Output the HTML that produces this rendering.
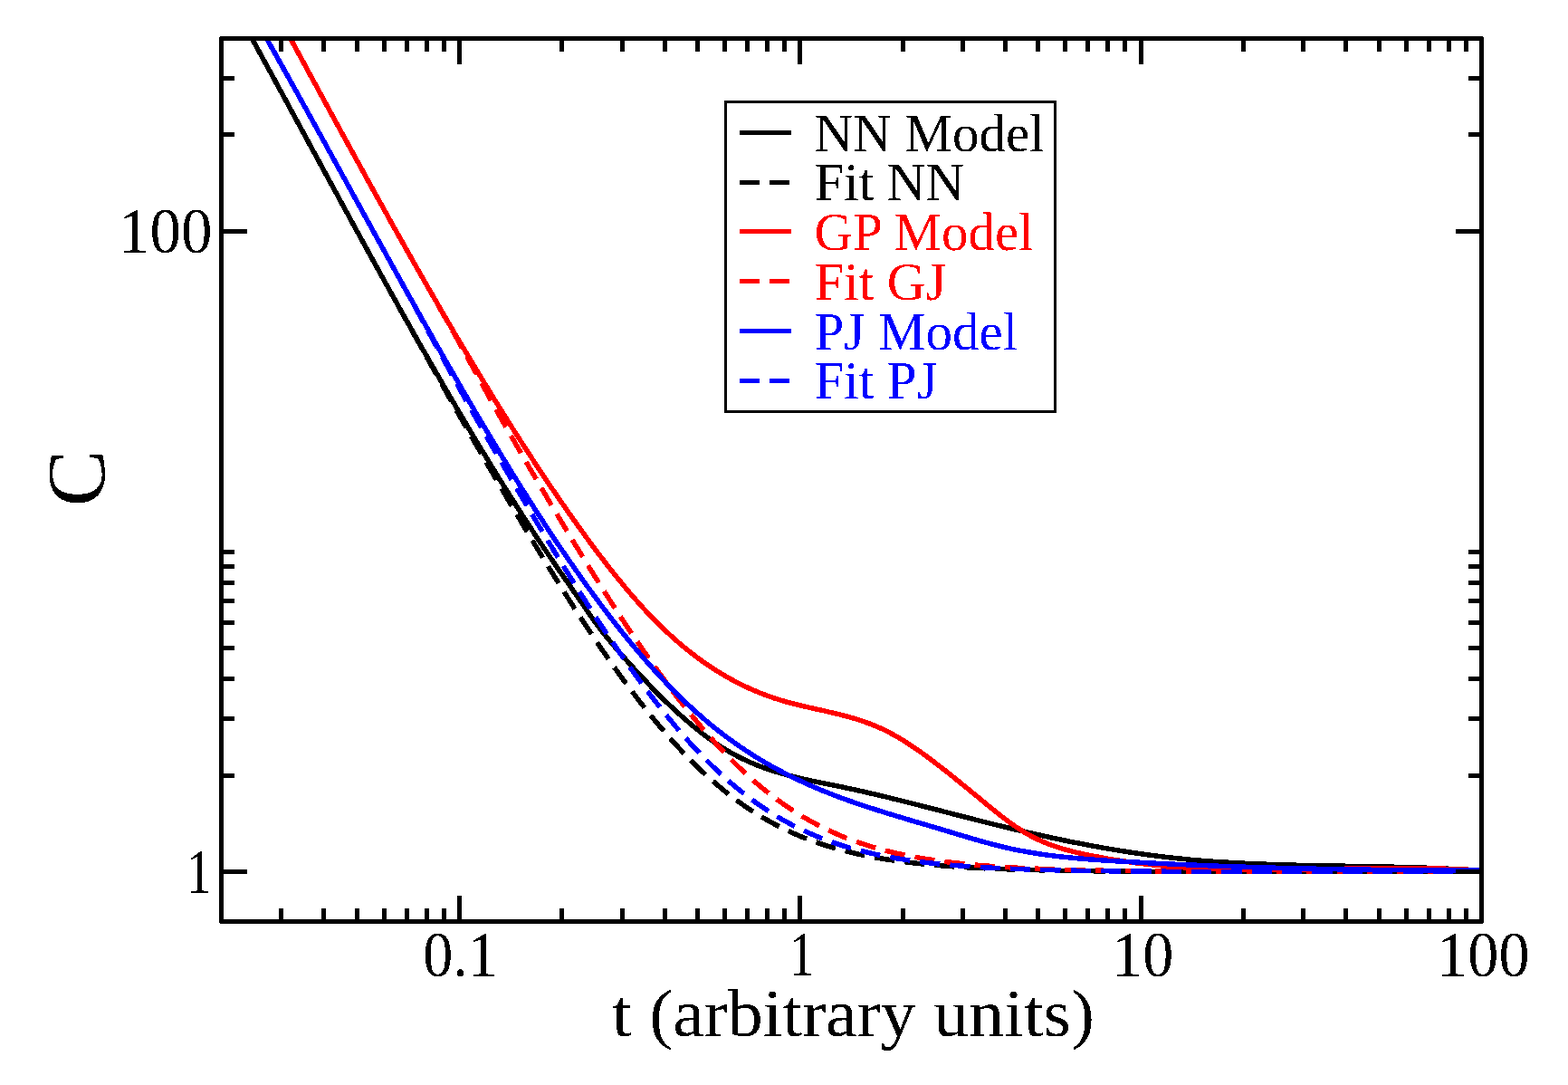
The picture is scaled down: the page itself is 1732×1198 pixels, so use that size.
<!DOCTYPE html>
<html><head><meta charset="utf-8"><style>
html,body{margin:0;padding:0;background:#fff;}
svg{display:block;}
text{font-family:'Liberation Serif','Times New Roman',serif;}
</style></head><body>
<svg width="1732" height="1198" viewBox="0 0 1732 1198">
<rect width="1732" height="1198" fill="#fff"/>
<defs><clipPath id="pc"><rect x="244.5" y="42.5" width="1392.0" height="975.0"/></clipPath>
<filter id="bin" x="0" y="0" width="1732" height="1198" filterUnits="userSpaceOnUse"><feComponentTransfer><feFuncA type="discrete" tableValues="0 1"/></feComponentTransfer></filter></defs>
<g fill="none" stroke-width="5.5" stroke-linejoin="round" clip-path="url(#pc)" shape-rendering="crispEdges">
<polyline points="271.4,30.0 272.8,32.6 274.3,35.2 275.7,37.8 277.1,40.5 278.6,43.1 280.0,45.7 281.5,48.4 282.9,51.0 284.4,53.6 285.8,56.3 287.3,58.9 288.7,61.5 290.1,64.1 291.6,66.8 293.0,69.4 294.5,72.0 295.9,74.7 297.3,77.3 298.8,79.9 300.2,82.6 301.7,85.2 303.1,87.8 304.5,90.5 306.0,93.1 307.4,95.7 308.8,98.4 310.3,101.0 311.7,103.6 313.2,106.3 314.6,108.9 316.0,111.5 317.5,114.2 318.9,116.8 320.3,119.4 321.8,122.1 323.2,124.7 324.6,127.4 326.1,130.0 327.5,132.6 328.9,135.3 330.4,137.9 331.8,140.5 333.2,143.2 334.7,145.8 336.1,148.4 337.5,151.1 339.0,153.7 340.4,156.3 341.8,159.0 343.3,161.6 344.7,164.2 346.1,166.9 347.6,169.5 349.0,172.2 350.4,174.8 351.9,177.4 353.3,180.1 354.7,182.7 356.2,185.3 357.6,188.0 359.0,190.6 360.5,193.2 361.9,195.9 363.3,198.5 364.8,201.1 366.2,203.8 367.6,206.4 369.1,209.0 370.5,211.7 372.0,214.3 373.4,216.9 374.8,219.6 376.3,222.2 377.7,224.8 379.1,227.5 380.6,230.1 382.0,232.7 383.5,235.4 384.9,238.0 386.3,240.6 387.8,243.3 389.2,245.9 390.6,248.5 392.1,251.2 393.5,253.8 395.0,256.4 396.4,259.1 397.9,261.7 399.3,264.3 400.7,266.9 402.2,269.6 403.6,272.2 405.1,274.8 406.5,277.5 408.0,280.1 409.4,282.7 410.9,285.3 412.3,288.0 413.8,290.6 415.2,293.2 416.7,295.8 418.1,298.5 419.6,301.1 421.0,303.7 422.5,306.3 423.9,309.0 425.4,311.6 426.8,314.2 428.3,316.8 429.8,319.5 431.2,322.1 432.7,324.7 434.1,327.3 435.6,329.9 437.1,332.6 438.5,335.2 440.0,337.8 441.4,340.4 442.9,343.0 444.4,345.6 445.8,348.3 447.3,350.9 448.8,353.5 450.3,356.1 451.7,358.7 453.2,361.3 454.7,363.9 456.1,366.6 457.6,369.2 459.1,371.8 460.6,374.4 462.1,377.0 463.5,379.6 465.0,382.2 466.5,384.8 468.0,387.4 469.5,390.0 471.0,392.6 472.4,395.2 473.9,397.8 475.4,400.4 476.9,403.0 478.4,405.6 479.9,408.2 481.4,410.8 482.9,413.4 484.4,416.0 485.9,418.6 487.4,421.2 488.9,423.8 490.4,426.4 491.9,429.0 493.4,431.6 494.9,434.2 496.4,436.8 497.9,439.4 499.5,442.0 501.0,444.6 502.5,447.1 504.0,449.7 505.5,452.3 507.0,454.9 508.6,457.5 510.1,460.1 511.6,462.6 513.2,465.2 514.7,467.8 516.2,470.4 517.8,473.0 519.3,475.5 520.8,478.1 522.4,480.7 523.9,483.3 525.5,485.8 527.0,488.4 528.5,491.0 530.1,493.5 531.6,496.1 533.2,498.7 534.8,501.2 536.3,503.8 537.9,506.3 539.4,508.9 541.0,511.5 542.6,514.0 544.1,516.6 545.7,519.1 547.3,521.7 548.9,524.2 550.4,526.8 552.0,529.3 553.6,531.9 555.2,534.4 556.8,537.0 558.4,539.5 560.0,542.0 561.6,544.6 563.2,547.1 564.8,549.6 566.4,552.2 568.0,554.7 569.6,557.2 571.2,559.8 572.8,562.3 574.4,564.8 576.1,567.3 577.7,569.9 579.3,572.4 580.9,574.9 582.6,577.4 584.2,579.9 585.8,582.4 587.5,584.9 589.1,587.4 590.8,590.0 592.4,592.5 594.1,595.0 595.7,597.5 597.4,599.9 599.1,602.4 600.7,604.9 602.4,607.4 604.1,609.9 605.8,612.4 607.4,614.9 609.1,617.3 610.8,619.8 612.5,622.3 614.2,624.8 615.9,627.2 617.6,629.7 619.3,632.2 621.0,634.6 622.7,637.1 624.4,639.6 626.2,642.0 627.9,644.5 629.6,647.0 631.3,649.4 633.0,651.9 634.7,654.3 636.4,656.8 638.2,659.3 639.9,661.7 641.6,664.2 643.3,666.7 645.0,669.1 646.7,671.6 648.4,674.1 650.1,676.6 651.8,679.0 653.5,681.5 655.2,683.9 656.9,686.4 658.7,688.8 660.5,691.2 662.3,693.6 664.1,695.9 666.0,698.3 667.8,700.6 669.7,702.9 671.6,705.3 673.5,707.6 675.4,709.9 677.3,712.2 679.3,714.5 681.2,716.7 683.2,719.0 685.1,721.3 687.1,723.5 689.1,725.8 691.1,728.0 693.1,730.2 695.1,732.5 697.1,734.7 699.1,736.9 701.1,739.1 703.2,741.3 705.2,743.5 707.3,745.7 709.3,747.9 711.4,750.1 713.4,752.2 715.5,754.4 717.6,756.6 719.6,758.7 721.7,760.9 723.8,763.0 725.9,765.1 728.1,767.2 730.2,769.4 732.3,771.5 734.4,773.6 736.6,775.7 738.8,777.7 740.9,779.8 743.1,781.8 745.3,783.9 747.5,785.9 749.7,787.9 751.9,789.9 754.2,791.9 756.4,793.9 758.7,795.9 760.9,797.8 763.2,799.8 765.5,801.7 767.8,803.6 770.1,805.5 772.5,807.3 774.8,809.2 777.2,811.0 779.6,812.8 782.0,814.6 784.4,816.3 786.9,818.1 789.3,819.8 791.8,821.5 794.3,823.1 796.8,824.7 799.3,826.3 801.9,827.9 804.5,829.4 807.0,830.9 809.7,832.4 812.3,833.8 814.9,835.2 817.6,836.5 820.3,837.9 823.0,839.1 825.7,840.4 828.4,841.6 831.2,842.8 834.0,843.9 836.7,845.1 839.5,846.1 842.3,847.2 845.2,848.2 848.0,849.2 850.8,850.2 853.7,851.1 856.5,852.0 859.4,852.9 862.3,853.7 865.1,854.5 868.0,855.3 870.9,856.1 873.8,856.9 876.7,857.6 879.6,858.3 882.6,859.0 885.5,859.7 888.4,860.4 891.3,861.0 894.3,861.6 897.2,862.3 900.1,862.9 903.1,863.5 906.0,864.1 908.9,864.7 911.9,865.3 914.8,865.9 917.8,866.5 920.7,867.1 923.6,867.7 926.6,868.3 929.5,868.9 932.5,869.5 935.4,870.1 938.3,870.7 941.3,871.4 944.2,872.0 947.1,872.7 950.1,873.3 953.0,874.0 955.9,874.6 958.8,875.3 961.8,876.0 964.7,876.7 967.6,877.3 970.5,878.0 973.4,878.7 976.4,879.4 979.3,880.1 982.2,880.8 985.1,881.6 988.0,882.3 990.9,883.0 993.8,883.7 996.8,884.4 999.7,885.2 1002.6,885.9 1005.5,886.6 1008.4,887.4 1011.3,888.1 1014.2,888.8 1017.1,889.6 1020.0,890.3 1022.9,891.1 1025.8,891.8 1028.7,892.6 1031.6,893.3 1034.6,894.1 1037.5,894.8 1040.4,895.6 1043.3,896.3 1046.2,897.1 1049.1,897.8 1052.0,898.6 1054.9,899.3 1057.8,900.1 1060.7,900.8 1063.6,901.6 1066.5,902.3 1069.4,903.0 1072.3,903.8 1075.2,904.5 1078.1,905.3 1081.0,906.0 1084.0,906.7 1086.9,907.5 1089.8,908.2 1092.7,908.9 1095.6,909.6 1098.5,910.4 1101.4,911.1 1104.3,911.8 1107.2,912.5 1110.2,913.2 1113.1,913.9 1116.0,914.6 1118.9,915.3 1121.8,916.0 1124.8,916.7 1127.7,917.4 1130.6,918.0 1133.5,918.7 1136.4,919.4 1139.4,920.0 1142.3,920.7 1145.2,921.4 1148.1,922.0 1151.1,922.7 1154.0,923.3 1156.9,923.9 1159.9,924.6 1162.8,925.2 1165.7,925.8 1168.7,926.5 1171.6,927.1 1174.5,927.7 1177.5,928.3 1180.4,928.9 1183.4,929.5 1186.3,930.1 1189.2,930.6 1192.2,931.2 1195.1,931.8 1198.1,932.4 1201.0,932.9 1204.0,933.5 1206.9,934.0 1209.9,934.6 1212.8,935.1 1215.8,935.6 1218.7,936.2 1221.7,936.7 1224.6,937.2 1227.6,937.7 1230.6,938.2 1233.5,938.7 1236.5,939.2 1239.4,939.6 1242.4,940.1 1245.4,940.6 1248.3,941.0 1251.3,941.5 1254.3,941.9 1257.2,942.3 1260.2,942.8 1263.2,943.2 1266.1,943.6 1269.1,944.0 1272.1,944.4 1275.1,944.8 1278.0,945.2 1281.0,945.5 1284.0,945.9 1287.0,946.3 1289.9,946.6 1292.9,946.9 1295.9,947.3 1298.9,947.6 1301.9,947.9 1304.9,948.2 1307.8,948.5 1310.8,948.8 1313.8,949.1 1316.8,949.4 1319.8,949.6 1322.8,949.9 1325.8,950.1 1328.8,950.4 1331.7,950.6 1334.7,950.8 1337.7,951.1 1340.7,951.3 1343.7,951.5 1346.7,951.7 1349.7,951.9 1352.7,952.1 1355.7,952.2 1358.7,952.4 1361.7,952.6 1364.7,952.8 1367.7,952.9 1370.7,953.1 1373.7,953.2 1376.7,953.4 1379.7,953.5 1382.7,953.6 1385.6,953.8 1388.6,953.9 1391.6,954.0 1394.6,954.1 1397.6,954.2 1400.6,954.4 1403.6,954.5 1406.6,954.6 1409.6,954.7 1412.6,954.7 1415.6,954.8 1418.6,954.9 1421.6,955.0 1424.6,955.1 1427.6,955.2 1430.6,955.2 1433.6,955.3 1436.6,955.4 1439.6,955.4 1442.6,955.5 1445.6,955.6 1448.6,955.6 1451.6,955.7 1454.6,955.7 1457.6,955.8 1460.6,955.8 1463.6,955.9 1466.6,956.0 1469.6,956.0 1472.6,956.1 1475.6,956.1 1478.6,956.2 1481.6,956.2 1484.6,956.2 1487.6,956.3 1490.6,956.3 1493.6,956.4 1496.6,956.4 1499.6,956.5 1502.6,956.5 1505.6,956.6 1508.6,956.6 1511.6,956.7 1514.6,956.7 1517.6,956.8 1520.6,956.9 1523.6,956.9 1526.6,957.0 1529.6,957.0 1532.6,957.1 1535.6,957.2 1538.6,957.2 1541.6,957.3 1544.6,957.4 1547.6,957.4 1550.6,957.5 1553.6,957.6 1556.6,957.7 1559.6,957.8 1562.6,957.9 1565.6,957.9 1568.6,958.0 1571.6,958.1 1574.6,958.2 1577.6,958.3 1580.6,958.5 1583.6,958.6 1586.6,958.7 1589.6,958.8 1592.6,959.0 1595.6,959.1 1598.6,959.2 1601.6,959.4 1604.6,959.5 1607.6,959.7 1610.6,959.8 1613.6,960.0 1616.5,960.2 1619.5,960.3 1622.5,960.5 1625.5,960.7 1628.5,960.9 1631.5,961.1 1634.5,961.3 1637.5,961.5 1640.0,961.7" stroke="#000"/>
<polyline points="271.4,30.0 272.8,32.6 274.3,35.2 275.7,37.8 277.1,40.5 278.6,43.1 280.0,45.7 281.5,48.4 282.9,51.0 284.4,53.6 285.8,56.3 287.3,58.9 288.7,61.5 290.1,64.1 291.6,66.8 293.0,69.4 294.5,72.0 295.9,74.7 297.3,77.3 298.8,79.9 300.2,82.6 301.7,85.2 303.1,87.8 304.5,90.5 306.0,93.1 307.4,95.7 308.8,98.4 310.3,101.0 311.7,103.6 313.2,106.3 314.6,108.9 316.0,111.5 317.5,114.2 318.9,116.8 320.3,119.4 321.8,122.1 323.2,124.7 324.6,127.4 326.1,130.0 327.5,132.6 328.9,135.3 330.4,137.9 331.8,140.5 333.2,143.2 334.7,145.8 336.1,148.4 337.5,151.1 339.0,153.7 340.4,156.3 341.8,159.0 343.3,161.6 344.7,164.2 346.1,166.9 347.6,169.5 349.0,172.2 350.4,174.8 351.9,177.4 353.3,180.1 354.7,182.7 356.2,185.3 357.6,188.0 359.0,190.6 360.5,193.2 361.9,195.9 363.3,198.5 364.8,201.1 366.2,203.8 367.6,206.4 369.1,209.0 370.5,211.7 372.0,214.3 373.4,216.9 374.8,219.6 376.3,222.2 377.7,224.8 379.1,227.5 380.6,230.1 382.0,232.7 383.5,235.4 384.9,238.0 386.3,240.6 387.8,243.3 389.2,245.9 390.6,248.5 392.1,251.2 393.5,253.8 395.0,256.4 396.4,259.1 397.9,261.7 399.3,264.3 400.7,266.9 402.2,269.6 403.6,272.2 405.1,274.8 406.5,277.5 408.0,280.1 409.4,282.7 410.9,285.3 412.3,288.0 413.8,290.6 415.2,293.2 416.7,295.8 418.1,298.5 419.6,301.1 421.0,303.7 422.5,306.3 423.9,309.0 425.4,311.6 426.8,314.2 428.3,316.8 429.7,319.5 431.2,322.1 432.6,324.7 434.1,327.3 435.6,330.0 437.0,332.6 438.5,335.2 439.9,337.8 441.4,340.4 442.8,343.1 444.3,345.7 445.7,348.3 447.2,350.9 448.7,353.6 450.1,356.2 451.6,358.8 453.0,361.4 454.5,364.0 456.0,366.7 457.4,369.3 458.9,371.9 460.3,374.5 461.8,377.2 463.3,379.8 464.7,382.4 466.2,385.0 467.6,387.6 469.1,390.3 470.6,392.9 472.0,395.5 473.5,398.1 474.9,400.7 476.4,403.4 477.9,406.0 479.3,408.6 480.8,411.2 482.3,413.8 483.7,416.4 485.2,419.1 486.6,421.7 488.1,424.3 489.6,426.9 491.0,429.5 492.5,432.2 494.0,434.8 495.4,437.4 496.9,440.0 498.4,442.6 499.8,445.2 501.3,447.8 502.8,450.5 504.3,453.1 505.7,455.7 507.2,458.3 508.7,460.9 510.2,463.5 511.7,466.1 513.2,468.7 514.6,471.3 516.1,473.9 517.6,476.5 519.1,479.1 520.6,481.7 522.1,484.3 523.6,486.9 525.1,489.5 526.6,492.1 528.1,494.7 529.6,497.3 531.1,499.9 532.6,502.5 534.1,505.1 535.6,507.7 537.1,510.3 538.6,512.9 540.1,515.5 541.6,518.1 543.1,520.7 544.6,523.3 546.1,525.9 547.6,528.5 549.1,531.1 550.6,533.7 552.1,536.3 553.6,538.8 555.2,541.4 556.7,544.0 558.2,546.6 559.7,549.2 561.2,551.8 562.8,554.4 564.3,556.9 565.8,559.5 567.3,562.1 568.9,564.7 570.4,567.3 571.9,569.8 573.5,572.4 575.0,575.0 576.5,577.6 578.1,580.2 579.6,582.7 581.1,585.3 582.7,587.9 584.2,590.4 585.8,593.0 587.3,595.6 588.9,598.1 590.4,600.7 592.0,603.3 593.5,605.8 595.1,608.4 596.7,611.0 598.2,613.5 599.8,616.1 601.3,618.6 602.9,621.2 604.5,623.7 606.1,626.3 607.6,628.8 609.2,631.4 610.8,633.9 612.4,636.5 614.0,639.0 615.6,641.6 617.1,644.1 618.7,646.7 620.3,649.2 621.9,651.7 623.5,654.3 625.1,656.8 626.7,659.3 628.4,661.9 630.0,664.4 631.6,666.9 633.2,669.4 634.8,672.0 636.5,674.5 638.1,677.0 639.7,679.5 641.4,682.0 643.0,684.5 644.6,687.0 646.3,689.5 648.0,692.0 649.6,694.5 651.3,697.0 652.9,699.5 654.6,702.0 656.3,704.5 657.9,707.0 659.6,709.5 661.3,711.9 663.0,714.4 664.7,716.9 666.4,719.4 668.1,721.8 669.8,724.3 671.5,726.7 673.2,729.2 675.0,731.7 676.7,734.1 678.4,736.5 680.2,739.0 681.9,741.4 683.7,743.9 685.4,746.3 687.2,748.7 688.9,751.1 690.7,753.5 692.5,755.9 694.3,758.4 696.1,760.8 697.9,763.1 699.7,765.5 701.5,767.9 703.3,770.3 705.1,772.7 707.0,775.0 708.8,777.4 710.7,779.8 712.5,782.1 714.4,784.5 716.3,786.8 718.1,789.1 720.0,791.5 721.9,793.8 723.8,796.1 725.8,798.4 727.7,800.7 729.6,803.0 731.5,805.2 733.5,807.5 735.5,809.8 737.4,812.0 739.4,814.3 741.4,816.5 743.4,818.8 745.4,821.0 747.4,823.2 749.5,825.4 751.5,827.6 753.5,829.8 755.6,831.9 757.7,834.1 759.8,836.2 761.9,838.4 764.0,840.5 766.1,842.6 768.2,844.7 770.4,846.8 772.5,848.9 774.7,850.9 776.9,853.0 779.1,855.0 781.3,857.0 783.5,859.0 785.8,861.0 788.0,863.0 790.3,864.9 792.5,866.9 794.8,868.8 797.1,870.7 799.5,872.6 801.8,874.5 804.1,876.4 806.5,878.2 808.9,880.0 811.3,881.8 813.7,883.6 816.1,885.4 818.5,887.1 821.0,888.8 823.4,890.5 825.9,892.2 828.4,893.9 830.9,895.5 833.4,897.1 836.0,898.7 838.5,900.3 841.1,901.8 843.7,903.3 846.2,904.8 848.9,906.3 851.5,907.8 854.1,909.2 856.7,910.6 859.4,912.0 862.1,913.3 864.8,914.7 867.4,916.0 870.2,917.3 872.9,918.5 875.6,919.7 878.3,920.9 881.1,922.1 883.9,923.3 886.6,924.4 889.4,925.5 892.2,926.6 895.0,927.7 897.8,928.7 900.6,929.7 903.5,930.7 906.3,931.6 909.2,932.6 912.0,933.5 914.9,934.4 917.7,935.3 920.6,936.1 923.5,936.9 926.4,937.7 929.3,938.5 932.2,939.3 935.1,940.0 938.0,940.7 940.9,941.4 943.8,942.1 946.8,942.8 949.7,943.4 952.6,944.0 955.6,944.6 958.5,945.2 961.4,945.8 964.4,946.3 967.3,946.9 970.3,947.4 973.3,947.9 976.2,948.4 979.2,948.9 982.1,949.3 985.1,949.8 988.1,950.2 991.0,950.6 994.0,951.0 997.0,951.4 1000.0,951.8 1002.9,952.2 1005.9,952.5 1008.9,952.9 1011.9,953.2 1014.9,953.5 1017.8,953.8 1020.8,954.1 1023.8,954.4 1026.8,954.7 1029.8,955.0 1032.8,955.2 1035.8,955.5 1038.8,955.7 1041.7,956.0 1044.7,956.2 1047.7,956.4 1050.7,956.6 1053.7,956.9 1056.7,957.1 1059.7,957.2 1062.7,957.4 1065.7,957.6 1068.7,957.8 1071.7,958.0 1074.7,958.1 1077.7,958.3 1080.7,958.4 1083.7,958.6 1086.7,958.7 1089.7,958.9 1092.6,959.0 1095.6,959.1 1098.6,959.3 1101.6,959.4 1104.6,959.5 1107.6,959.6 1110.6,959.7 1113.6,959.8 1116.6,959.9 1119.6,960.0 1122.6,960.1 1125.6,960.2 1128.6,960.3 1131.6,960.4 1134.6,960.4 1137.6,960.5 1140.6,960.6 1143.6,960.7 1146.6,960.7 1149.6,960.8 1152.6,960.9 1155.6,960.9 1158.6,961.0 1161.6,961.1 1164.6,961.1 1167.6,961.2 1170.6,961.2 1173.6,961.3 1176.6,961.3 1179.6,961.4 1182.6,961.4 1185.6,961.5 1188.6,961.5 1191.6,961.6 1194.6,961.6 1197.6,961.6 1200.6,961.7 1203.6,961.7 1206.6,961.7 1209.6,961.8 1212.6,961.8 1215.6,961.8 1218.6,961.9 1221.6,961.9 1224.6,961.9 1227.6,962.0 1230.6,962.0 1233.6,962.0 1236.6,962.0 1239.6,962.1 1242.6,962.1 1245.6,962.1 1248.6,962.1 1251.6,962.2 1254.6,962.2 1257.6,962.2 1260.6,962.2 1263.6,962.2 1266.6,962.2 1269.6,962.3 1272.6,962.3 1275.6,962.3 1278.6,962.3 1281.6,962.3 1284.6,962.3 1287.6,962.3 1290.6,962.4 1293.6,962.4 1296.6,962.4 1299.6,962.4 1302.6,962.4 1305.6,962.4 1308.6,962.4 1311.6,962.4 1314.6,962.4 1317.6,962.5 1320.6,962.5 1323.6,962.5 1326.6,962.5 1329.6,962.5 1332.6,962.5 1335.6,962.5 1338.6,962.5 1341.6,962.5 1344.6,962.5 1347.6,962.5 1350.6,962.5 1353.6,962.5 1356.6,962.6 1359.6,962.6 1362.6,962.6 1365.6,962.6 1368.6,962.6 1371.6,962.6 1374.6,962.6 1377.6,962.6 1380.6,962.6 1383.6,962.6 1386.6,962.6 1389.6,962.6 1392.6,962.6 1395.6,962.6 1398.6,962.6 1401.6,962.6 1404.6,962.6 1407.6,962.6 1410.6,962.6 1413.6,962.6 1416.6,962.6 1419.6,962.6 1422.6,962.6 1425.6,962.6 1428.6,962.6 1431.6,962.7 1434.6,962.7 1437.6,962.7 1440.6,962.7 1443.6,962.7 1446.6,962.7 1449.6,962.7 1452.6,962.7 1455.6,962.7 1458.6,962.7 1461.6,962.7 1464.6,962.7 1467.6,962.7 1470.6,962.7 1473.6,962.7 1476.6,962.7 1479.6,962.7 1482.6,962.7 1485.6,962.7 1488.6,962.7 1491.6,962.7 1494.6,962.7 1497.6,962.7 1500.6,962.7 1503.6,962.7 1506.6,962.7 1509.6,962.7 1512.6,962.7 1515.6,962.7 1518.6,962.7 1521.6,962.7 1524.6,962.7 1527.6,962.7 1530.6,962.7 1533.6,962.7 1536.6,962.7 1539.6,962.7 1542.6,962.7 1545.6,962.7 1548.6,962.7 1551.6,962.7 1554.6,962.7 1557.6,962.7 1560.6,962.7 1563.6,962.7 1566.6,962.7 1569.6,962.7 1572.6,962.7 1575.6,962.7 1578.6,962.7 1581.6,962.7 1584.6,962.7 1587.6,962.7 1590.6,962.7 1593.6,962.7 1596.6,962.7 1599.6,962.7 1602.6,962.7 1605.6,962.7 1608.6,962.7 1611.6,962.7 1614.6,962.7 1617.6,962.7 1620.6,962.7 1623.6,962.7 1626.6,962.7 1629.6,962.7 1632.6,962.7 1635.6,962.7 1638.6,962.7 1640.0,962.7" stroke="#000" stroke-dasharray="22.24 11.12" stroke-dashoffset="17.9"/>
<polyline points="314.0,30.0 315.4,32.6 316.8,35.2 318.3,37.9 319.7,40.5 321.1,43.1 322.6,45.8 324.0,48.4 325.4,51.0 326.9,53.7 328.3,56.3 329.7,59.0 331.2,61.6 332.6,64.2 334.0,66.9 335.5,69.5 336.9,72.1 338.3,74.8 339.8,77.4 341.2,80.0 342.6,82.7 344.1,85.3 345.5,87.9 346.9,90.6 348.4,93.2 349.8,95.8 351.2,98.5 352.7,101.1 354.1,103.8 355.5,106.4 357.0,109.0 358.4,111.7 359.8,114.3 361.3,116.9 362.7,119.6 364.2,122.2 365.6,124.8 367.0,127.5 368.5,130.1 369.9,132.7 371.3,135.4 372.8,138.0 374.2,140.6 375.7,143.3 377.1,145.9 378.5,148.5 380.0,151.1 381.4,153.8 382.9,156.4 384.3,159.0 385.7,161.7 387.2,164.3 388.6,166.9 390.1,169.6 391.5,172.2 393.0,174.8 394.4,177.4 395.9,180.1 397.3,182.7 398.7,185.3 400.2,188.0 401.6,190.6 403.1,193.2 404.5,195.8 406.0,198.5 407.4,201.1 408.9,203.7 410.3,206.3 411.8,209.0 413.2,211.6 414.7,214.2 416.2,216.8 417.6,219.5 419.1,222.1 420.5,224.7 422.0,227.3 423.4,229.9 424.9,232.6 426.4,235.2 427.8,237.8 429.3,240.4 430.7,243.0 432.2,245.7 433.7,248.3 435.1,250.9 436.6,253.5 438.1,256.1 439.5,258.7 441.0,261.4 442.5,264.0 444.0,266.6 445.4,269.2 446.9,271.8 448.4,274.4 449.8,277.0 451.3,279.6 452.8,282.3 454.3,284.9 455.8,287.5 457.2,290.1 458.7,292.7 460.2,295.3 461.7,297.9 463.2,300.5 464.7,303.1 466.1,305.7 467.6,308.3 469.1,310.9 470.6,313.5 472.1,316.1 473.6,318.7 475.1,321.3 476.6,323.9 478.1,326.5 479.6,329.1 481.1,331.7 482.6,334.3 484.1,336.9 485.6,339.5 487.1,342.1 488.6,344.7 490.1,347.3 491.6,349.9 493.1,352.5 494.6,355.1 496.2,357.6 497.7,360.2 499.2,362.8 500.7,365.4 502.2,368.0 503.8,370.6 505.3,373.2 506.8,375.7 508.3,378.3 509.9,380.9 511.4,383.5 512.9,386.1 514.5,388.6 516.0,391.2 517.5,393.8 519.1,396.4 520.6,398.9 522.2,401.5 523.7,404.1 525.3,406.6 526.8,409.2 528.4,411.8 529.9,414.3 531.5,416.9 533.0,419.5 534.6,422.0 536.1,424.6 537.7,427.1 539.3,429.7 540.8,432.3 542.4,434.8 544.0,437.4 545.5,439.9 547.1,442.5 548.7,445.0 550.3,447.6 551.9,450.1 553.5,452.7 555.0,455.2 556.6,457.7 558.2,460.3 559.8,462.8 561.4,465.4 563.0,467.9 564.6,470.4 566.2,473.0 567.8,475.5 569.4,478.0 571.1,480.6 572.7,483.1 574.3,485.6 575.9,488.1 577.5,490.7 579.2,493.2 580.8,495.7 582.4,498.2 584.0,500.7 585.7,503.2 587.3,505.7 589.0,508.2 590.6,510.8 592.3,513.3 593.9,515.8 595.6,518.3 597.2,520.8 598.9,523.3 600.6,525.7 602.2,528.2 603.9,530.7 605.6,533.2 607.2,535.7 608.9,538.2 610.6,540.7 612.3,543.1 614.0,545.6 615.7,548.1 617.4,550.6 619.1,553.0 620.8,555.5 622.5,558.0 624.2,560.4 625.9,562.9 627.6,565.3 629.4,567.8 631.1,570.2 632.8,572.7 634.6,575.1 636.3,577.6 638.0,580.0 639.8,582.4 641.5,584.9 643.3,587.3 645.1,589.7 646.8,592.1 648.6,594.6 650.4,597.0 652.1,599.4 653.9,601.8 655.7,604.2 657.5,606.6 659.3,609.0 661.1,611.4 662.9,613.8 664.8,616.2 666.6,618.5 668.4,620.9 670.2,623.3 672.1,625.6 673.9,628.0 675.8,630.4 677.6,632.7 679.5,635.0 681.4,637.4 683.3,639.7 685.2,642.0 687.1,644.3 689.0,646.7 690.9,649.0 692.8,651.2 694.7,653.5 696.7,655.8 698.6,658.1 700.6,660.3 702.6,662.6 704.6,664.8 706.6,667.1 708.6,669.3 710.6,671.5 712.6,673.7 714.6,675.9 716.7,678.1 718.8,680.2 720.8,682.4 722.9,684.5 725.0,686.7 727.2,688.8 729.3,690.9 731.4,693.0 733.6,695.0 735.8,697.1 738.0,699.1 740.2,701.2 742.4,703.2 744.6,705.2 746.9,707.1 749.1,709.1 751.4,711.0 753.7,713.0 756.0,714.9 758.3,716.8 760.6,718.6 763.0,720.5 765.4,722.3 767.7,724.1 770.1,725.9 772.5,727.7 775.0,729.5 777.4,731.2 779.9,732.9 782.3,734.6 784.8,736.3 787.3,737.9 789.8,739.5 792.4,741.1 794.9,742.7 797.5,744.2 800.0,745.8 802.6,747.3 805.2,748.7 807.9,750.2 810.5,751.6 813.1,753.0 815.8,754.4 818.5,755.7 821.2,757.0 823.9,758.3 826.6,759.6 829.3,760.8 832.1,762.0 834.8,763.2 837.6,764.3 840.4,765.5 843.2,766.5 846.0,767.6 848.8,768.6 851.6,769.6 854.4,770.6 857.3,771.5 860.1,772.4 863.0,773.3 865.9,774.2 868.7,775.0 871.6,775.8 874.5,776.5 877.4,777.3 880.3,778.0 883.3,778.7 886.2,779.4 889.1,780.1 892.0,780.8 894.9,781.4 897.9,782.1 900.8,782.8 903.7,783.4 906.7,784.1 909.6,784.7 912.5,785.4 915.4,786.1 918.4,786.7 921.3,787.4 924.2,788.1 927.1,788.8 930.0,789.6 932.9,790.3 935.8,791.1 938.7,791.9 941.6,792.7 944.5,793.6 947.4,794.5 950.2,795.4 953.1,796.4 955.9,797.4 958.7,798.4 961.5,799.4 964.3,800.5 967.1,801.7 969.9,802.9 972.6,804.1 975.4,805.3 978.1,806.6 980.8,808.0 983.4,809.4 986.1,810.8 988.7,812.3 991.3,813.7 993.9,815.3 996.5,816.8 999.1,818.4 1001.6,820.0 1004.1,821.7 1006.6,823.3 1009.1,825.0 1011.6,826.7 1014.1,828.4 1016.5,830.1 1019.0,831.9 1021.4,833.6 1023.8,835.4 1026.3,837.2 1028.7,839.0 1031.1,840.8 1033.5,842.6 1035.8,844.5 1038.2,846.3 1040.6,848.1 1043.0,850.0 1045.3,851.8 1047.7,853.7 1050.0,855.6 1052.4,857.4 1054.7,859.3 1057.0,861.2 1059.4,863.1 1061.7,865.0 1064.0,866.9 1066.4,868.8 1068.7,870.7 1071.0,872.6 1073.3,874.5 1075.6,876.4 1078.0,878.3 1080.3,880.2 1082.6,882.1 1084.9,884.0 1087.2,885.9 1089.5,887.9 1091.8,889.8 1094.2,891.7 1096.5,893.5 1098.8,895.4 1101.2,897.3 1103.5,899.2 1105.9,901.0 1108.2,902.8 1110.6,904.6 1113.0,906.4 1115.4,908.2 1117.9,909.9 1120.3,911.7 1122.8,913.4 1125.3,915.0 1127.8,916.6 1130.3,918.2 1132.9,919.8 1135.4,921.3 1138.1,922.7 1140.7,924.1 1143.4,925.4 1146.1,926.8 1148.8,928.0 1151.5,929.2 1154.3,930.4 1157.0,931.5 1159.8,932.6 1162.6,933.6 1165.5,934.6 1168.3,935.5 1171.2,936.4 1174.0,937.3 1176.9,938.1 1179.8,938.9 1182.7,939.6 1185.6,940.4 1188.5,941.1 1191.4,941.8 1194.4,942.4 1197.3,943.1 1200.2,943.7 1203.2,944.3 1206.1,944.9 1209.1,945.5 1212.0,946.0 1214.9,946.6 1217.9,947.1 1220.8,947.7 1223.8,948.2 1226.8,948.7 1229.7,949.2 1232.7,949.6 1235.6,950.1 1238.6,950.5 1241.6,951.0 1244.5,951.4 1247.5,951.8 1250.5,952.2 1253.5,952.6 1256.4,953.0 1259.4,953.4 1262.4,953.7 1265.4,954.1 1268.3,954.4 1271.3,954.7 1274.3,955.0 1277.3,955.3 1280.3,955.6 1283.3,955.9 1286.3,956.2 1289.2,956.4 1292.2,956.7 1295.2,956.9 1298.2,957.2 1301.2,957.4 1304.2,957.6 1307.2,957.8 1310.2,958.0 1313.2,958.2 1316.2,958.4 1319.2,958.5 1322.2,958.7 1325.2,958.8 1328.2,959.0 1331.2,959.1 1334.2,959.2 1337.2,959.4 1340.1,959.5 1343.1,959.6 1346.1,959.7 1349.1,959.8 1352.1,959.8 1355.1,959.9 1358.1,960.0 1361.1,960.1 1364.1,960.1 1367.1,960.2 1370.1,960.2 1373.1,960.3 1376.1,960.3 1379.1,960.3 1382.1,960.3 1385.1,960.4 1388.1,960.4 1391.1,960.4 1394.1,960.4 1397.1,960.4 1400.1,960.4 1403.1,960.4 1406.1,960.4 1409.1,960.4 1412.1,960.3 1415.1,960.3 1418.1,960.3 1421.1,960.3 1424.1,960.2 1427.1,960.2 1430.1,960.2 1433.1,960.1 1436.1,960.1 1439.1,960.1 1442.1,960.0 1445.1,960.0 1448.1,959.9 1451.1,959.9 1454.1,959.8 1457.1,959.8 1460.1,959.7 1463.1,959.7 1466.1,959.6 1469.1,959.6 1472.1,959.5 1475.1,959.5 1478.1,959.4 1481.1,959.4 1484.1,959.3 1487.1,959.2 1490.1,959.2 1493.1,959.1 1496.1,959.1 1499.1,959.1 1502.1,959.0 1505.1,959.0 1508.1,958.9 1511.1,958.9 1514.1,958.8 1517.1,958.8 1520.1,958.8 1523.1,958.7 1526.1,958.7 1529.1,958.7 1532.1,958.7 1535.1,958.6 1538.1,958.6 1541.1,958.6 1544.1,958.6 1547.1,958.6 1550.1,958.6 1553.1,958.6 1556.1,958.6 1559.1,958.6 1562.1,958.6 1565.1,958.7 1568.1,958.7 1571.1,958.7 1574.1,958.8 1577.1,958.8 1580.1,958.9 1583.1,958.9 1586.1,959.0 1589.1,959.0 1592.1,959.1 1595.1,959.2 1598.1,959.3 1601.1,959.4 1604.1,959.5 1607.1,959.6 1610.1,959.7 1613.1,959.8 1616.1,960.0 1619.1,960.1 1622.1,960.3 1625.1,960.4 1628.1,960.6 1631.1,960.7 1634.1,960.9 1637.1,961.1 1640.0,961.3" stroke="#f00"/>
<polyline points="314.0,30.0 315.4,32.6 316.8,35.2 318.3,37.9 319.7,40.5 321.1,43.1 322.6,45.8 324.0,48.4 325.4,51.0 326.9,53.7 328.3,56.3 329.7,59.0 331.2,61.6 332.6,64.2 334.0,66.9 335.5,69.5 336.9,72.1 338.3,74.8 339.8,77.4 341.2,80.0 342.6,82.7 344.1,85.3 345.5,87.9 346.9,90.6 348.4,93.2 349.8,95.8 351.2,98.5 352.7,101.1 354.1,103.8 355.5,106.4 357.0,109.0 358.4,111.7 359.8,114.3 361.3,116.9 362.7,119.6 364.2,122.2 365.6,124.8 367.0,127.5 368.5,130.1 369.9,132.7 371.3,135.4 372.8,138.0 374.2,140.6 375.7,143.3 377.1,145.9 378.5,148.5 380.0,151.1 381.4,153.8 382.9,156.4 384.3,159.0 385.7,161.7 387.2,164.3 388.6,166.9 390.1,169.6 391.5,172.2 393.0,174.8 394.4,177.4 395.9,180.1 397.3,182.7 398.7,185.3 400.2,188.0 401.6,190.6 403.1,193.2 404.5,195.8 406.0,198.5 407.4,201.1 408.9,203.7 410.3,206.3 411.8,209.0 413.2,211.6 414.7,214.2 416.2,216.8 417.6,219.5 419.1,222.1 420.5,224.7 422.0,227.3 423.4,229.9 424.9,232.6 426.4,235.2 427.8,237.8 429.3,240.4 430.7,243.0 432.2,245.7 433.7,248.3 435.1,250.9 436.6,253.5 438.1,256.1 439.5,258.7 441.0,261.4 442.5,264.0 444.0,266.6 445.4,269.2 446.9,271.8 448.4,274.4 449.8,277.0 451.3,279.6 452.8,282.3 454.3,284.9 455.8,287.5 457.2,290.1 458.7,292.7 460.2,295.3 461.7,297.9 463.2,300.5 464.7,303.1 466.1,305.7 467.6,308.3 469.1,310.9 470.6,313.5 472.1,316.1 473.6,318.8 475.1,321.4 476.5,324.0 478.0,326.6 479.5,329.2 481.0,331.8 482.5,334.4 483.9,337.0 485.4,339.6 486.9,342.2 488.4,344.8 489.9,347.5 491.3,350.1 492.8,352.7 494.3,355.3 495.8,357.9 497.2,360.5 498.7,363.1 500.2,365.8 501.6,368.4 503.1,371.0 504.6,373.6 506.0,376.2 507.5,378.9 509.0,381.5 510.4,384.1 511.9,386.7 513.3,389.4 514.8,392.0 516.2,394.6 517.7,397.2 519.1,399.9 520.6,402.5 522.0,405.1 523.5,407.7 524.9,410.4 526.4,413.0 527.8,415.6 529.3,418.3 530.7,420.9 532.1,423.5 533.6,426.1 535.0,428.8 536.5,431.4 537.9,434.0 539.4,436.7 540.8,439.3 542.3,441.9 543.7,444.5 545.2,447.2 546.6,449.8 548.1,452.4 549.6,455.0 551.0,457.6 552.5,460.2 554.0,462.8 555.4,465.5 556.9,468.1 558.4,470.7 559.9,473.3 561.4,475.9 562.9,478.5 564.4,481.1 565.9,483.7 567.4,486.2 568.9,488.8 570.4,491.4 571.9,494.0 573.4,496.6 574.9,499.2 576.4,501.8 577.9,504.4 579.4,507.0 580.9,509.6 582.4,512.2 583.9,514.8 585.4,517.4 587.0,520.0 588.5,522.6 590.0,525.2 591.5,527.7 593.0,530.3 594.5,532.9 596.1,535.5 597.6,538.1 599.1,540.7 600.6,543.3 602.1,545.8 603.7,548.4 605.2,551.0 606.7,553.6 608.2,556.2 609.8,558.7 611.3,561.3 612.8,563.9 614.4,566.5 615.9,569.1 617.5,571.6 619.0,574.2 620.5,576.8 622.1,579.3 623.6,581.9 625.2,584.5 626.7,587.1 628.3,589.6 629.8,592.2 631.4,594.8 632.9,597.3 634.5,599.9 636.0,602.4 637.6,605.0 639.2,607.6 640.7,610.1 642.3,612.7 643.9,615.2 645.4,617.8 647.0,620.3 648.6,622.9 650.2,625.4 651.8,628.0 653.3,630.5 654.9,633.1 656.5,635.6 658.1,638.2 659.7,640.7 661.3,643.2 662.9,645.8 664.5,648.3 666.1,650.8 667.7,653.4 669.3,655.9 670.9,658.4 672.5,661.0 674.2,663.5 675.8,666.0 677.4,668.5 679.0,671.0 680.7,673.5 682.3,676.1 683.9,678.6 685.6,681.1 687.2,683.6 688.9,686.1 690.5,688.6 692.2,691.1 693.8,693.6 695.5,696.1 697.2,698.6 698.9,701.1 700.5,703.5 702.2,706.0 703.9,708.5 705.6,711.0 707.3,713.4 709.0,715.9 710.7,718.4 712.4,720.8 714.1,723.3 715.8,725.8 717.5,728.2 719.3,730.7 721.0,733.1 722.7,735.6 724.5,738.0 726.2,740.4 728.0,742.9 729.7,745.3 731.5,747.7 733.3,750.1 735.1,752.5 736.8,754.9 738.6,757.3 740.4,759.7 742.2,762.1 744.0,764.5 745.9,766.9 747.7,769.3 749.5,771.6 751.3,774.0 753.2,776.4 755.0,778.7 756.9,781.1 758.8,783.4 760.6,785.8 762.5,788.1 764.4,790.4 766.3,792.7 768.2,795.0 770.1,797.3 772.1,799.6 774.0,801.9 775.9,804.2 777.9,806.5 779.9,808.7 781.8,811.0 783.8,813.2 785.8,815.5 787.8,817.7 789.8,819.9 791.8,822.1 793.9,824.3 795.9,826.5 798.0,828.7 800.0,830.9 802.1,833.0 804.2,835.2 806.3,837.3 808.4,839.4 810.5,841.5 812.6,843.6 814.8,845.7 816.9,847.8 819.1,849.9 821.3,851.9 823.5,853.9 825.7,856.0 827.9,858.0 830.2,860.0 832.4,861.9 834.7,863.9 836.9,865.9 839.2,867.8 841.5,869.7 843.8,871.6 846.2,873.5 848.5,875.3 850.9,877.2 853.2,879.0 855.6,880.8 858.0,882.6 860.5,884.4 862.9,886.1 865.3,887.8 867.8,889.5 870.3,891.2 872.7,892.9 875.2,894.5 877.8,896.2 880.3,897.7 882.8,899.3 885.4,900.9 888.0,902.4 890.6,903.9 893.2,905.4 895.8,906.9 898.4,908.3 901.0,909.7 903.7,911.1 906.3,912.5 909.0,913.8 911.7,915.1 914.4,916.4 917.1,917.7 919.9,918.9 922.6,920.1 925.3,921.3 928.1,922.5 930.9,923.7 933.6,924.8 936.4,925.9 939.2,926.9 942.0,928.0 944.9,929.0 947.7,930.0 950.5,931.0 953.4,931.9 956.2,932.8 959.1,933.8 961.9,934.6 964.8,935.5 967.7,936.3 970.6,937.1 973.5,937.9 976.4,938.7 979.3,939.5 982.2,940.2 985.1,940.9 988.0,941.6 990.9,942.3 993.8,942.9 996.8,943.5 999.7,944.2 1002.6,944.8 1005.6,945.3 1008.5,945.9 1011.5,946.5 1014.4,947.0 1017.4,947.5 1020.3,948.0 1023.3,948.5 1026.3,948.9 1029.2,949.4 1032.2,949.8 1035.2,950.3 1038.1,950.7 1041.1,951.1 1044.1,951.5 1047.1,951.8 1050.0,952.2 1053.0,952.6 1056.0,952.9 1059.0,953.2 1062.0,953.5 1064.9,953.9 1067.9,954.2 1070.9,954.4 1073.9,954.7 1076.9,955.0 1079.9,955.3 1082.9,955.5 1085.9,955.8 1088.8,956.0 1091.8,956.2 1094.8,956.4 1097.8,956.7 1100.8,956.9 1103.8,957.1 1106.8,957.3 1109.8,957.4 1112.8,957.6 1115.8,957.8 1118.8,958.0 1121.8,958.1 1124.8,958.3 1127.8,958.4 1130.8,958.6 1133.8,958.7 1136.8,958.9 1139.7,959.0 1142.7,959.1 1145.7,959.2 1148.7,959.4 1151.7,959.5 1154.7,959.6 1157.7,959.7 1160.7,959.8 1163.7,959.9 1166.7,960.0 1169.7,960.1 1172.7,960.2 1175.7,960.3 1178.7,960.4 1181.7,960.4 1184.7,960.5 1187.7,960.6 1190.7,960.7 1193.7,960.7 1196.7,960.8 1199.7,960.9 1202.7,960.9 1205.7,961.0 1208.7,961.1 1211.7,961.1 1214.7,961.2 1217.7,961.2 1220.7,961.3 1223.7,961.3 1226.7,961.4 1229.7,961.4 1232.7,961.5 1235.7,961.5 1238.7,961.6 1241.7,961.6 1244.7,961.6 1247.7,961.7 1250.7,961.7 1253.7,961.7 1256.7,961.8 1259.7,961.8 1262.7,961.8 1265.7,961.9 1268.7,961.9 1271.7,961.9 1274.7,962.0 1277.7,962.0 1280.7,962.0 1283.7,962.0 1286.7,962.1 1289.7,962.1 1292.7,962.1 1295.7,962.1 1298.7,962.1 1301.7,962.2 1304.7,962.2 1307.7,962.2 1310.7,962.2 1313.7,962.2 1316.7,962.3 1319.7,962.3 1322.7,962.3 1325.7,962.3 1328.7,962.3 1331.7,962.3 1334.7,962.3 1337.7,962.4 1340.7,962.4 1343.7,962.4 1346.7,962.4 1349.7,962.4 1352.7,962.4 1355.7,962.4 1358.7,962.4 1361.7,962.4 1364.7,962.5 1367.7,962.5 1370.7,962.5 1373.7,962.5 1376.7,962.5 1379.7,962.5 1382.7,962.5 1385.7,962.5 1388.7,962.5 1391.7,962.5 1394.7,962.5 1397.7,962.5 1400.7,962.5 1403.7,962.6 1406.7,962.6 1409.7,962.6 1412.7,962.6 1415.7,962.6 1418.7,962.6 1421.7,962.6 1424.7,962.6 1427.7,962.6 1430.7,962.6 1433.7,962.6 1436.7,962.6 1439.7,962.6 1442.7,962.6 1445.7,962.6 1448.7,962.6 1451.7,962.6 1454.7,962.6 1457.7,962.6 1460.7,962.6 1463.7,962.6 1466.7,962.6 1469.7,962.6 1472.7,962.6 1475.7,962.6 1478.7,962.7 1481.7,962.7 1484.7,962.7 1487.7,962.7 1490.7,962.7 1493.7,962.7 1496.7,962.7 1499.7,962.7 1502.7,962.7 1505.7,962.7 1508.7,962.7 1511.7,962.7 1514.7,962.7 1517.7,962.7 1520.7,962.7 1523.7,962.7 1526.7,962.7 1529.7,962.7 1532.7,962.7 1535.7,962.7 1538.7,962.7 1541.7,962.7 1544.7,962.7 1547.7,962.7 1550.7,962.7 1553.7,962.7 1556.7,962.7 1559.7,962.7 1562.7,962.7 1565.7,962.7 1568.7,962.7 1571.7,962.7 1574.7,962.7 1577.7,962.7 1580.7,962.7 1583.7,962.7 1586.7,962.7 1589.7,962.7 1592.7,962.7 1595.7,962.7 1598.7,962.7 1601.7,962.7 1604.7,962.7 1607.7,962.7 1610.7,962.7 1613.7,962.7 1616.7,962.7 1619.7,962.7 1622.7,962.7 1625.7,962.7 1628.7,962.7 1631.7,962.7 1634.7,962.7 1637.7,962.7 1640.0,962.7" stroke="#f00" stroke-dasharray="22.24 11.12" stroke-dashoffset="17.8"/>
<polyline points="287.3,29.9 288.8,32.5 290.3,35.1 291.8,37.7 293.2,40.4 294.7,43.0 296.2,45.6 297.7,48.2 299.1,50.8 300.6,53.4 302.1,56.0 303.6,58.6 305.0,61.3 306.5,63.9 308.0,66.5 309.4,69.1 310.9,71.7 312.4,74.3 313.8,77.0 315.3,79.6 316.8,82.2 318.2,84.8 319.7,87.4 321.2,90.1 322.6,92.7 324.1,95.3 325.5,97.9 327.0,100.5 328.5,103.2 329.9,105.8 331.4,108.4 332.8,111.0 334.3,113.7 335.7,116.3 337.2,118.9 338.7,121.5 340.1,124.2 341.6,126.8 343.0,129.4 344.5,132.0 345.9,134.7 347.4,137.3 348.8,139.9 350.3,142.5 351.7,145.2 353.2,147.8 354.6,150.4 356.1,153.0 357.5,155.7 359.0,158.3 360.4,160.9 361.9,163.6 363.3,166.2 364.8,168.8 366.2,171.4 367.6,174.1 369.1,176.7 370.5,179.3 372.0,182.0 373.4,184.6 374.9,187.2 376.3,189.8 377.8,192.5 379.2,195.1 380.7,197.7 382.1,200.4 383.5,203.0 385.0,205.6 386.4,208.2 387.9,210.9 389.3,213.5 390.8,216.1 392.2,218.8 393.7,221.4 395.1,224.0 396.6,226.6 398.0,229.3 399.4,231.9 400.9,234.5 402.3,237.2 403.8,239.8 405.2,242.4 406.7,245.0 408.1,247.7 409.6,250.3 411.0,252.9 412.5,255.6 413.9,258.2 415.4,260.8 416.8,263.4 418.3,266.1 419.7,268.7 421.2,271.3 422.6,273.9 424.1,276.6 425.5,279.2 427.0,281.8 428.4,284.4 429.9,287.1 431.3,289.7 432.8,292.3 434.2,294.9 435.7,297.6 437.1,300.2 438.6,302.8 440.0,305.4 441.5,308.1 443.0,310.7 444.4,313.3 445.9,315.9 447.3,318.5 448.8,321.2 450.3,323.8 451.7,326.4 453.2,329.0 454.6,331.6 456.1,334.3 457.6,336.9 459.0,339.5 460.5,342.1 462.0,344.7 463.4,347.3 464.9,350.0 466.4,352.6 467.8,355.2 469.3,357.8 470.8,360.4 472.3,363.0 473.7,365.6 475.2,368.2 476.7,370.9 478.2,373.5 479.6,376.1 481.1,378.7 482.6,381.3 484.1,383.9 485.6,386.5 487.1,389.1 488.5,391.7 490.0,394.3 491.5,396.9 493.0,399.5 494.5,402.1 496.0,404.7 497.5,407.3 499.0,409.9 500.5,412.5 502.0,415.1 503.5,417.7 505.0,420.3 506.5,422.9 508.0,425.5 509.5,428.1 511.0,430.7 512.5,433.3 514.0,435.9 515.5,438.5 517.0,441.1 518.5,443.7 520.1,446.2 521.6,448.8 523.1,451.4 524.6,454.0 526.1,456.6 527.7,459.2 529.2,461.8 530.7,464.3 532.2,466.9 533.8,469.5 535.3,472.1 536.8,474.6 538.4,477.2 539.9,479.8 541.5,482.4 543.0,484.9 544.5,487.5 546.1,490.1 547.6,492.6 549.2,495.2 550.8,497.8 552.3,500.3 553.9,502.9 555.4,505.5 557.0,508.0 558.6,510.6 560.1,513.1 561.7,515.7 563.3,518.2 564.8,520.8 566.4,523.3 568.0,525.9 569.6,528.4 571.2,531.0 572.8,533.5 574.3,536.1 575.9,538.6 577.5,541.1 579.1,543.7 580.7,546.2 582.3,548.7 584.0,551.3 585.6,553.8 587.2,556.3 588.8,558.8 590.4,561.4 592.0,563.9 593.7,566.4 595.3,568.9 596.9,571.4 598.6,574.0 600.2,576.5 601.8,579.0 603.5,581.5 605.1,584.0 606.8,586.5 608.4,589.0 610.1,591.5 611.8,594.0 613.4,596.5 615.1,599.0 616.8,601.4 618.4,603.9 620.1,606.4 621.8,608.9 623.5,611.4 625.2,613.8 626.9,616.3 628.6,618.8 630.3,621.2 632.0,623.7 633.7,626.2 635.4,628.6 637.2,631.1 638.9,633.5 640.6,636.0 642.3,638.4 644.1,640.9 645.8,643.3 647.6,645.7 649.3,648.2 651.1,650.6 652.9,653.0 654.6,655.4 656.4,657.8 658.2,660.3 660.0,662.7 661.7,665.1 663.5,667.5 665.3,669.9 667.1,672.3 669.0,674.6 670.8,677.0 672.6,679.4 674.4,681.8 676.3,684.2 678.1,686.5 679.9,688.9 681.8,691.2 683.7,693.6 685.5,695.9 687.4,698.3 689.3,700.6 691.2,702.9 693.0,705.3 694.9,707.6 696.8,709.9 698.8,712.2 700.7,714.5 702.6,716.8 704.5,719.1 706.5,721.4 708.4,723.6 710.4,725.9 712.3,728.2 714.3,730.4 716.3,732.7 718.3,734.9 720.3,737.2 722.3,739.4 724.3,741.6 726.3,743.8 728.3,746.0 730.4,748.2 732.4,750.4 734.5,752.6 736.5,754.7 738.6,756.9 740.7,759.1 742.8,761.2 744.9,763.3 747.0,765.5 749.1,767.6 751.3,769.7 753.4,771.8 755.6,773.8 757.7,775.9 759.9,778.0 762.1,780.0 764.3,782.0 766.5,784.1 768.7,786.1 771.0,788.1 773.2,790.0 775.5,792.0 777.7,793.9 780.0,795.9 782.3,797.8 784.6,799.7 786.9,801.6 789.3,803.5 791.6,805.4 794.0,807.2 796.3,809.0 798.7,810.9 801.1,812.7 803.5,814.5 805.9,816.2 808.3,818.0 810.8,819.7 813.2,821.5 815.7,823.2 818.1,824.9 820.6,826.5 823.1,828.2 825.6,829.9 828.1,831.5 830.6,833.1 833.2,834.7 835.7,836.3 838.3,837.8 840.8,839.4 843.4,840.9 846.0,842.4 848.6,843.9 851.2,845.4 853.8,846.8 856.4,848.3 859.1,849.7 861.7,851.1 864.4,852.5 867.0,853.9 869.7,855.3 872.4,856.6 875.1,857.9 877.8,859.3 880.5,860.6 883.2,861.8 885.9,863.1 888.6,864.3 891.3,865.6 894.1,866.8 896.8,868.0 899.6,869.2 902.3,870.4 905.1,871.5 907.9,872.7 910.6,873.8 913.4,874.9 916.2,876.0 919.0,877.1 921.8,878.2 924.6,879.3 927.4,880.3 930.2,881.4 933.0,882.4 935.9,883.4 938.7,884.4 941.5,885.4 944.3,886.4 947.2,887.4 950.0,888.3 952.9,889.3 955.7,890.2 958.6,891.2 961.4,892.1 964.3,893.0 967.1,893.9 970.0,894.8 972.8,895.7 975.7,896.6 978.6,897.5 981.4,898.4 984.3,899.3 987.2,900.1 990.0,901.0 992.9,901.9 995.8,902.7 998.7,903.6 1001.5,904.4 1004.4,905.3 1007.3,906.2 1010.2,907.0 1013.0,907.8 1015.9,908.7 1018.8,909.5 1021.7,910.4 1024.6,911.2 1027.4,912.1 1030.3,912.9 1033.2,913.8 1036.1,914.6 1038.9,915.5 1041.8,916.4 1044.7,917.2 1047.6,918.1 1050.4,919.0 1053.3,919.8 1056.2,920.7 1059.0,921.6 1061.9,922.4 1064.8,923.3 1067.7,924.1 1070.5,925.0 1073.4,925.8 1076.3,926.7 1079.2,927.5 1082.1,928.3 1085.0,929.1 1087.8,929.9 1090.7,930.7 1093.6,931.5 1096.5,932.3 1099.4,933.0 1102.3,933.8 1105.3,934.5 1108.2,935.2 1111.1,935.9 1114.0,936.5 1116.9,937.2 1119.9,937.8 1122.8,938.4 1125.7,939.0 1128.7,939.5 1131.6,940.1 1134.6,940.6 1137.5,941.1 1140.5,941.6 1143.5,942.1 1146.4,942.6 1149.4,943.0 1152.4,943.5 1155.3,943.9 1158.3,944.3 1161.3,944.7 1164.3,945.0 1167.2,945.4 1170.2,945.7 1173.2,946.1 1176.2,946.4 1179.2,946.7 1182.1,947.0 1185.1,947.3 1188.1,947.6 1191.1,947.8 1194.1,948.1 1197.1,948.3 1200.1,948.6 1203.1,948.8 1206.0,949.0 1209.0,949.3 1212.0,949.5 1215.0,949.7 1218.0,949.9 1221.0,950.1 1224.0,950.3 1227.0,950.4 1230.0,950.6 1233.0,950.8 1236.0,951.0 1239.0,951.2 1242.0,951.3 1245.0,951.5 1248.0,951.7 1251.0,951.8 1254.0,952.0 1257.0,952.2 1259.9,952.3 1262.9,952.5 1265.9,952.6 1268.9,952.8 1271.9,953.0 1274.9,953.1 1277.9,953.3 1280.9,953.4 1283.9,953.6 1286.9,953.7 1289.9,953.8 1292.9,954.0 1295.9,954.1 1298.9,954.3 1301.9,954.4 1304.9,954.5 1307.9,954.7 1310.9,954.8 1313.9,954.9 1316.9,955.1 1319.9,955.2 1322.9,955.3 1325.9,955.4 1328.9,955.6 1331.9,955.7 1334.9,955.8 1337.9,955.9 1340.9,956.0 1343.9,956.1 1346.9,956.3 1349.9,956.4 1352.9,956.5 1355.9,956.6 1358.8,956.7 1361.8,956.8 1364.8,956.9 1367.8,957.0 1370.8,957.1 1373.8,957.2 1376.8,957.3 1379.8,957.4 1382.8,957.5 1385.8,957.6 1388.8,957.7 1391.8,957.7 1394.8,957.8 1397.8,957.9 1400.8,958.0 1403.8,958.1 1406.8,958.2 1409.8,958.3 1412.8,958.3 1415.8,958.4 1418.8,958.5 1421.8,958.6 1424.8,958.6 1427.8,958.7 1430.8,958.8 1433.8,958.9 1436.8,958.9 1439.8,959.0 1442.8,959.1 1445.8,959.1 1448.8,959.2 1451.8,959.2 1454.8,959.3 1457.8,959.4 1460.8,959.4 1463.8,959.5 1466.8,959.5 1469.8,959.6 1472.8,959.6 1475.8,959.7 1478.8,959.8 1481.8,959.8 1484.8,959.9 1487.8,959.9 1490.8,959.9 1493.8,960.0 1496.8,960.0 1499.8,960.1 1502.8,960.1 1505.8,960.2 1508.8,960.2 1511.8,960.2 1514.8,960.3 1517.8,960.3 1520.8,960.3 1523.8,960.4 1526.8,960.4 1529.8,960.4 1532.8,960.5 1535.8,960.5 1538.8,960.5 1541.8,960.6 1544.8,960.6 1547.8,960.6 1550.8,960.6 1553.8,960.7 1556.8,960.7 1559.8,960.7 1562.8,960.7 1565.8,960.8 1568.8,960.8 1571.8,960.8 1574.8,960.8 1577.8,960.8 1580.8,960.9 1583.8,960.9 1586.8,960.9 1589.8,960.9 1592.8,960.9 1595.8,960.9 1598.8,960.9 1601.8,960.9 1604.8,960.9 1607.8,961.0 1610.8,961.0 1613.8,961.0 1616.8,961.0 1619.8,961.0 1622.8,961.0 1625.8,961.0 1628.8,961.0 1631.8,961.0 1634.8,961.0 1637.8,961.0 1640.0,961.0" stroke="#00f"/>
<polyline points="287.3,29.9 288.8,32.5 290.3,35.1 291.8,37.7 293.2,40.4 294.7,43.0 296.2,45.6 297.7,48.2 299.1,50.8 300.6,53.4 302.1,56.0 303.6,58.6 305.0,61.3 306.5,63.9 308.0,66.5 309.4,69.1 310.9,71.7 312.4,74.3 313.8,77.0 315.3,79.6 316.8,82.2 318.2,84.8 319.7,87.4 321.2,90.1 322.6,92.7 324.1,95.3 325.5,97.9 327.0,100.5 328.5,103.2 329.9,105.8 331.4,108.4 332.8,111.0 334.3,113.7 335.7,116.3 337.2,118.9 338.7,121.5 340.1,124.2 341.6,126.8 343.0,129.4 344.5,132.0 345.9,134.7 347.4,137.3 348.8,139.9 350.3,142.5 351.7,145.2 353.2,147.8 354.6,150.4 356.1,153.0 357.5,155.7 359.0,158.3 360.4,160.9 361.9,163.6 363.3,166.2 364.8,168.8 366.2,171.4 367.6,174.1 369.1,176.7 370.5,179.3 372.0,182.0 373.4,184.6 374.9,187.2 376.3,189.8 377.8,192.5 379.2,195.1 380.7,197.7 382.1,200.4 383.5,203.0 385.0,205.6 386.4,208.2 387.9,210.9 389.3,213.5 390.8,216.1 392.2,218.8 393.7,221.4 395.1,224.0 396.6,226.6 398.0,229.3 399.4,231.9 400.9,234.5 402.3,237.2 403.8,239.8 405.2,242.4 406.7,245.0 408.1,247.7 409.6,250.3 411.0,252.9 412.5,255.6 413.9,258.2 415.4,260.8 416.8,263.4 418.3,266.1 419.7,268.7 421.2,271.3 422.6,273.9 424.1,276.6 425.5,279.2 427.0,281.8 428.4,284.4 429.9,287.1 431.3,289.7 432.8,292.3 434.2,294.9 435.7,297.6 437.1,300.2 438.6,302.8 440.0,305.4 441.5,308.1 442.9,310.7 444.4,313.3 445.8,316.0 447.3,318.6 448.7,321.2 450.2,323.8 451.6,326.5 453.0,329.1 454.5,331.7 455.9,334.4 457.4,337.0 458.8,339.6 460.2,342.3 461.7,344.9 463.1,347.5 464.5,350.2 466.0,352.8 467.4,355.5 468.8,358.1 470.3,360.7 471.7,363.4 473.1,366.0 474.6,368.6 476.0,371.3 477.4,373.9 478.9,376.5 480.3,379.2 481.7,381.8 483.2,384.4 484.6,387.1 486.1,389.7 487.5,392.3 488.9,395.0 490.4,397.6 491.8,400.2 493.2,402.9 494.7,405.5 496.1,408.1 497.6,410.8 499.0,413.4 500.4,416.0 501.9,418.7 503.3,421.3 504.8,423.9 506.2,426.5 507.7,429.2 509.1,431.8 510.6,434.4 512.0,437.0 513.5,439.7 514.9,442.3 516.4,444.9 517.9,447.5 519.3,450.1 520.8,452.7 522.3,455.3 523.8,458.0 525.2,460.6 526.7,463.2 528.2,465.8 529.7,468.4 531.2,471.0 532.7,473.6 534.2,476.2 535.7,478.8 537.2,481.4 538.7,484.0 540.1,486.6 541.6,489.2 543.1,491.8 544.6,494.4 546.1,497.0 547.6,499.6 549.1,502.2 550.6,504.8 552.2,507.4 553.7,510.0 555.2,512.5 556.7,515.1 558.2,517.7 559.7,520.3 561.2,522.9 562.7,525.5 564.2,528.1 565.7,530.7 567.2,533.3 568.8,535.9 570.3,538.4 571.8,541.0 573.3,543.6 574.8,546.2 576.4,548.8 577.9,551.4 579.4,554.0 580.9,556.5 582.5,559.1 584.0,561.7 585.5,564.3 587.1,566.8 588.6,569.4 590.1,572.0 591.7,574.6 593.2,577.2 594.8,579.7 596.3,582.3 597.8,584.9 599.4,587.4 600.9,590.0 602.5,592.6 604.0,595.1 605.6,597.7 607.1,600.3 608.7,602.8 610.3,605.4 611.8,608.0 613.4,610.5 614.9,613.1 616.5,615.6 618.1,618.2 619.7,620.7 621.2,623.3 622.8,625.8 624.4,628.4 626.0,630.9 627.6,633.5 629.1,636.0 630.7,638.6 632.3,641.1 633.9,643.6 635.5,646.2 637.1,648.7 638.7,651.3 640.3,653.8 641.9,656.3 643.5,658.8 645.2,661.4 646.8,663.9 648.4,666.4 650.0,668.9 651.6,671.5 653.3,674.0 654.9,676.5 656.5,679.0 658.2,681.5 659.8,684.0 661.5,686.5 663.1,689.0 664.8,691.5 666.4,694.0 668.1,696.5 669.8,699.0 671.4,701.5 673.1,704.0 674.8,706.5 676.5,708.9 678.2,711.4 679.9,713.9 681.6,716.4 683.3,718.8 685.0,721.3 686.7,723.7 688.4,726.2 690.1,728.7 691.8,731.1 693.6,733.6 695.3,736.0 697.0,738.4 698.8,740.9 700.5,743.3 702.3,745.7 704.1,748.1 705.8,750.6 707.6,753.0 709.4,755.4 711.2,757.8 713.0,760.2 714.8,762.6 716.6,765.0 718.4,767.4 720.2,769.7 722.1,772.1 723.9,774.5 725.7,776.8 727.6,779.2 729.4,781.5 731.3,783.9 733.2,786.2 735.1,788.5 737.0,790.9 738.9,793.2 740.8,795.5 742.7,797.8 744.6,800.1 746.5,802.4 748.5,804.7 750.4,806.9 752.4,809.2 754.4,811.4 756.3,813.7 758.3,815.9 760.3,818.2 762.3,820.4 764.4,822.6 766.4,824.8 768.4,827.0 770.5,829.2 772.6,831.3 774.6,833.5 776.7,835.6 778.8,837.8 780.9,839.9 783.0,842.0 785.2,844.1 787.3,846.2 789.5,848.3 791.7,850.3 793.8,852.4 796.0,854.4 798.2,856.4 800.5,858.4 802.7,860.4 804.9,862.4 807.2,864.4 809.5,866.3 811.8,868.2 814.1,870.1 816.4,872.0 818.7,873.9 821.1,875.8 823.4,877.6 825.8,879.4 828.2,881.2 830.6,883.0 833.0,884.8 835.4,886.5 837.9,888.3 840.4,890.0 842.8,891.6 845.3,893.3 847.8,894.9 850.3,896.6 852.9,898.2 855.4,899.7 858.0,901.3 860.6,902.8 863.1,904.3 865.7,905.8 868.4,907.3 871.0,908.7 873.6,910.1 876.3,911.5 878.9,912.8 881.6,914.2 884.3,915.5 887.0,916.8 889.7,918.0 892.5,919.3 895.2,920.5 898.0,921.7 900.7,922.8 903.5,924.0 906.3,925.1 909.1,926.2 911.9,927.2 914.7,928.3 917.5,929.3 920.3,930.3 923.2,931.3 926.0,932.2 928.8,933.1 931.7,934.0 934.6,934.9 937.4,935.8 940.3,936.6 943.2,937.4 946.1,938.2 949.0,938.9 951.9,939.7 954.8,940.4 957.7,941.1 960.6,941.8 963.6,942.5 966.5,943.1 969.4,943.8 972.4,944.4 975.3,945.0 978.2,945.5 981.2,946.1 984.1,946.6 987.1,947.2 990.0,947.7 993.0,948.2 996.0,948.6 998.9,949.1 1001.9,949.6 1004.9,950.0 1007.8,950.4 1010.8,950.8 1013.8,951.2 1016.7,951.6 1019.7,952.0 1022.7,952.3 1025.7,952.7 1028.7,953.0 1031.6,953.3 1034.6,953.7 1037.6,954.0 1040.6,954.3 1043.6,954.6 1046.6,954.8 1049.6,955.1 1052.5,955.4 1055.5,955.6 1058.5,955.8 1061.5,956.1 1064.5,956.3 1067.5,956.5 1070.5,956.7 1073.5,956.9 1076.5,957.1 1079.5,957.3 1082.5,957.5 1085.5,957.7 1088.5,957.9 1091.4,958.0 1094.4,958.2 1097.4,958.3 1100.4,958.5 1103.4,958.6 1106.4,958.8 1109.4,958.9 1112.4,959.1 1115.4,959.2 1118.4,959.3 1121.4,959.4 1124.4,959.5 1127.4,959.6 1130.4,959.7 1133.4,959.9 1136.4,959.9 1139.4,960.0 1142.4,960.1 1145.4,960.2 1148.4,960.3 1151.4,960.4 1154.4,960.5 1157.4,960.6 1160.4,960.6 1163.4,960.7 1166.4,960.8 1169.4,960.8 1172.4,960.9 1175.4,961.0 1178.4,961.0 1181.4,961.1 1184.4,961.1 1187.4,961.2 1190.4,961.3 1193.4,961.3 1196.4,961.4 1199.4,961.4 1202.4,961.4 1205.4,961.5 1208.4,961.5 1211.4,961.6 1214.4,961.6 1217.4,961.7 1220.4,961.7 1223.4,961.7 1226.4,961.8 1229.4,961.8 1232.4,961.8 1235.4,961.9 1238.4,961.9 1241.4,961.9 1244.4,961.9 1247.4,962.0 1250.4,962.0 1253.4,962.0 1256.4,962.0 1259.4,962.1 1262.4,962.1 1265.4,962.1 1268.4,962.1 1271.4,962.2 1274.4,962.2 1277.4,962.2 1280.4,962.2 1283.4,962.2 1286.4,962.2 1289.4,962.3 1292.4,962.3 1295.4,962.3 1298.4,962.3 1301.4,962.3 1304.4,962.3 1307.4,962.4 1310.4,962.4 1313.4,962.4 1316.4,962.4 1319.4,962.4 1322.4,962.4 1325.4,962.4 1328.4,962.4 1331.4,962.4 1334.4,962.5 1337.4,962.5 1340.4,962.5 1343.4,962.5 1346.4,962.5 1349.4,962.5 1352.4,962.5 1355.4,962.5 1358.4,962.5 1361.4,962.5 1364.4,962.5 1367.4,962.5 1370.4,962.5 1373.4,962.6 1376.4,962.6 1379.4,962.6 1382.4,962.6 1385.4,962.6 1388.4,962.6 1391.4,962.6 1394.4,962.6 1397.4,962.6 1400.4,962.6 1403.4,962.6 1406.4,962.6 1409.4,962.6 1412.4,962.6 1415.4,962.6 1418.4,962.6 1421.4,962.6 1424.4,962.6 1427.4,962.6 1430.4,962.6 1433.4,962.6 1436.4,962.6 1439.4,962.6 1442.4,962.6 1445.4,962.6 1448.4,962.6 1451.4,962.7 1454.4,962.7 1457.4,962.7 1460.4,962.7 1463.4,962.7 1466.4,962.7 1469.4,962.7 1472.4,962.7 1475.4,962.7 1478.4,962.7 1481.4,962.7 1484.4,962.7 1487.4,962.7 1490.4,962.7 1493.4,962.7 1496.4,962.7 1499.4,962.7 1502.4,962.7 1505.4,962.7 1508.4,962.7 1511.4,962.7 1514.4,962.7 1517.4,962.7 1520.4,962.7 1523.4,962.7 1526.4,962.7 1529.4,962.7 1532.4,962.7 1535.4,962.7 1538.4,962.7 1541.4,962.7 1544.4,962.7 1547.4,962.7 1550.4,962.7 1553.4,962.7 1556.4,962.7 1559.4,962.7 1562.4,962.7 1565.4,962.7 1568.4,962.7 1571.4,962.7 1574.4,962.7 1577.4,962.7 1580.4,962.7 1583.4,962.7 1586.4,962.7 1589.4,962.7 1592.4,962.7 1595.4,962.7 1598.4,962.7 1601.4,962.7 1604.4,962.7 1607.4,962.7 1610.4,962.7 1613.4,962.7 1616.4,962.7 1619.4,962.7 1622.4,962.7 1625.4,962.7 1628.4,962.7 1631.4,962.7 1634.4,962.7 1637.4,962.7 1640.0,962.7" stroke="#00f" stroke-dasharray="22.24 11.12" stroke-dashoffset="17.5"/>
</g>
<g shape-rendering="crispEdges">
<path d="M244.50 1017.5V1003.0M244.50 42.5V57.0M310.77 1017.5V1003.0M310.77 42.5V57.0M357.78 1017.5V1003.0M357.78 42.5V57.0M394.25 1017.5V1003.0M394.25 42.5V57.0M424.05 1017.5V1003.0M424.05 42.5V57.0M449.24 1017.5V1003.0M449.24 42.5V57.0M471.07 1017.5V1003.0M471.07 42.5V57.0M490.32 1017.5V1003.0M490.32 42.5V57.0M507.54 1017.5V989.0M507.54 42.5V71.0M620.82 1017.5V1003.0M620.82 42.5V57.0M687.09 1017.5V1003.0M687.09 42.5V57.0M734.10 1017.5V1003.0M734.10 42.5V57.0M770.57 1017.5V1003.0M770.57 42.5V57.0M800.37 1017.5V1003.0M800.37 42.5V57.0M825.57 1017.5V1003.0M825.57 42.5V57.0M847.39 1017.5V1003.0M847.39 42.5V57.0M866.64 1017.5V1003.0M866.64 42.5V57.0M883.86 1017.5V989.0M883.86 42.5V71.0M997.14 1017.5V1003.0M997.14 42.5V57.0M1063.41 1017.5V1003.0M1063.41 42.5V57.0M1110.43 1017.5V1003.0M1110.43 42.5V57.0M1146.90 1017.5V1003.0M1146.90 42.5V57.0M1176.69 1017.5V1003.0M1176.69 42.5V57.0M1201.89 1017.5V1003.0M1201.89 42.5V57.0M1223.71 1017.5V1003.0M1223.71 42.5V57.0M1242.96 1017.5V1003.0M1242.96 42.5V57.0M1260.18 1017.5V989.0M1260.18 42.5V71.0M1373.46 1017.5V1003.0M1373.46 42.5V57.0M1439.73 1017.5V1003.0M1439.73 42.5V57.0M1486.75 1017.5V1003.0M1486.75 42.5V57.0M1523.22 1017.5V1003.0M1523.22 42.5V57.0M1553.01 1017.5V1003.0M1553.01 42.5V57.0M1578.21 1017.5V1003.0M1578.21 42.5V57.0M1600.03 1017.5V1003.0M1600.03 42.5V57.0M1619.28 1017.5V1003.0M1619.28 42.5V57.0M1636.50 1017.5V989.0M1636.50 42.5V71.0M244.5 962.72H273.0M1636.5 962.72H1608.0M244.5 856.26H259.0M1636.5 856.26H1622.0M244.5 793.98H259.0M1636.5 793.98H1622.0M244.5 749.80H259.0M1636.5 749.80H1622.0M244.5 715.53H259.0M1636.5 715.53H1622.0M244.5 687.53H259.0M1636.5 687.53H1622.0M244.5 663.85H259.0M1636.5 663.85H1622.0M244.5 643.34H259.0M1636.5 643.34H1622.0M244.5 625.25H259.0M1636.5 625.25H1622.0M244.5 609.07H259.0M1636.5 609.07H1622.0M244.5 255.42H273.0M1636.5 255.42H1608.0M244.5 148.96H259.0M1636.5 148.96H1622.0M244.5 86.68H259.0M1636.5 86.68H1622.0M244.5 42.50H259.0M1636.5 42.50H1622.0" stroke="#000" stroke-width="5" fill="none"/>
<rect x="244.5" y="42.5" width="1392.0" height="975.0" fill="none" stroke="#000" stroke-width="5" stroke-linejoin="round"/>
<rect x="801.5" y="112.5" width="364" height="342" fill="#fff" stroke="#000" stroke-width="3"/>
<path d="M817 146.5H874" stroke="#000" stroke-width="5"/><path d="M817 201.2H872" stroke="#000" stroke-width="5" stroke-dasharray="22.24 11.12"/><path d="M817 255.9H874" stroke="#f00" stroke-width="5"/><path d="M817 310.6H872" stroke="#f00" stroke-width="5" stroke-dasharray="22.24 11.12"/><path d="M817 365.3H874" stroke="#00f" stroke-width="5"/><path d="M817 420.0H872" stroke="#00f" stroke-width="5" stroke-dasharray="22.24 11.12"/>
</g>
<g filter="url(#bin)">
<text transform="matrix(0.9383 0 0 1.0217 467.19 1078.00)" font-size="70.4" fill="#000">0.1</text><text transform="matrix(0.7600 0 0 1.0000 872.44 1077.00)" font-size="70.4" fill="#000">1</text><text transform="matrix(0.9677 0 0 1.0217 1228.19 1078.00)" font-size="70.4" fill="#000">10</text><text transform="matrix(0.9691 0 0 1.0217 1587.19 1078.00)" font-size="70.4" fill="#000">100</text>
<text transform="matrix(0.9794 0 0 1.0217 131.12 279.00)" font-size="70.4" fill="#000">100</text><text transform="matrix(0.7600 0 0 1.0000 206.44 986.00)" font-size="70.4" fill="#000">1</text>
<text transform="matrix(1.0134 0 0 0.9710 675.99 1144.46)" font-size="77" fill="#000">t (arbitrary units)</text>
<text transform="matrix(0 -1.0816 1.0345 0 114.97 559.33)" font-size="87" fill="#000">C</text>
<g font-size="59">
<text x="899.5" y="166.60" fill="#000">NN Model</text><text x="899.5" y="221.35" fill="#000">Fit NN</text><text x="899.5" y="276.10" fill="#f00">GP Model</text><text x="899.5" y="330.85" fill="#f00">Fit GJ</text><text x="899.5" y="385.60" fill="#00f">PJ Model</text><text x="899.5" y="440.35" fill="#00f">Fit PJ</text>
</g>
</g>
</svg>
</body></html>
